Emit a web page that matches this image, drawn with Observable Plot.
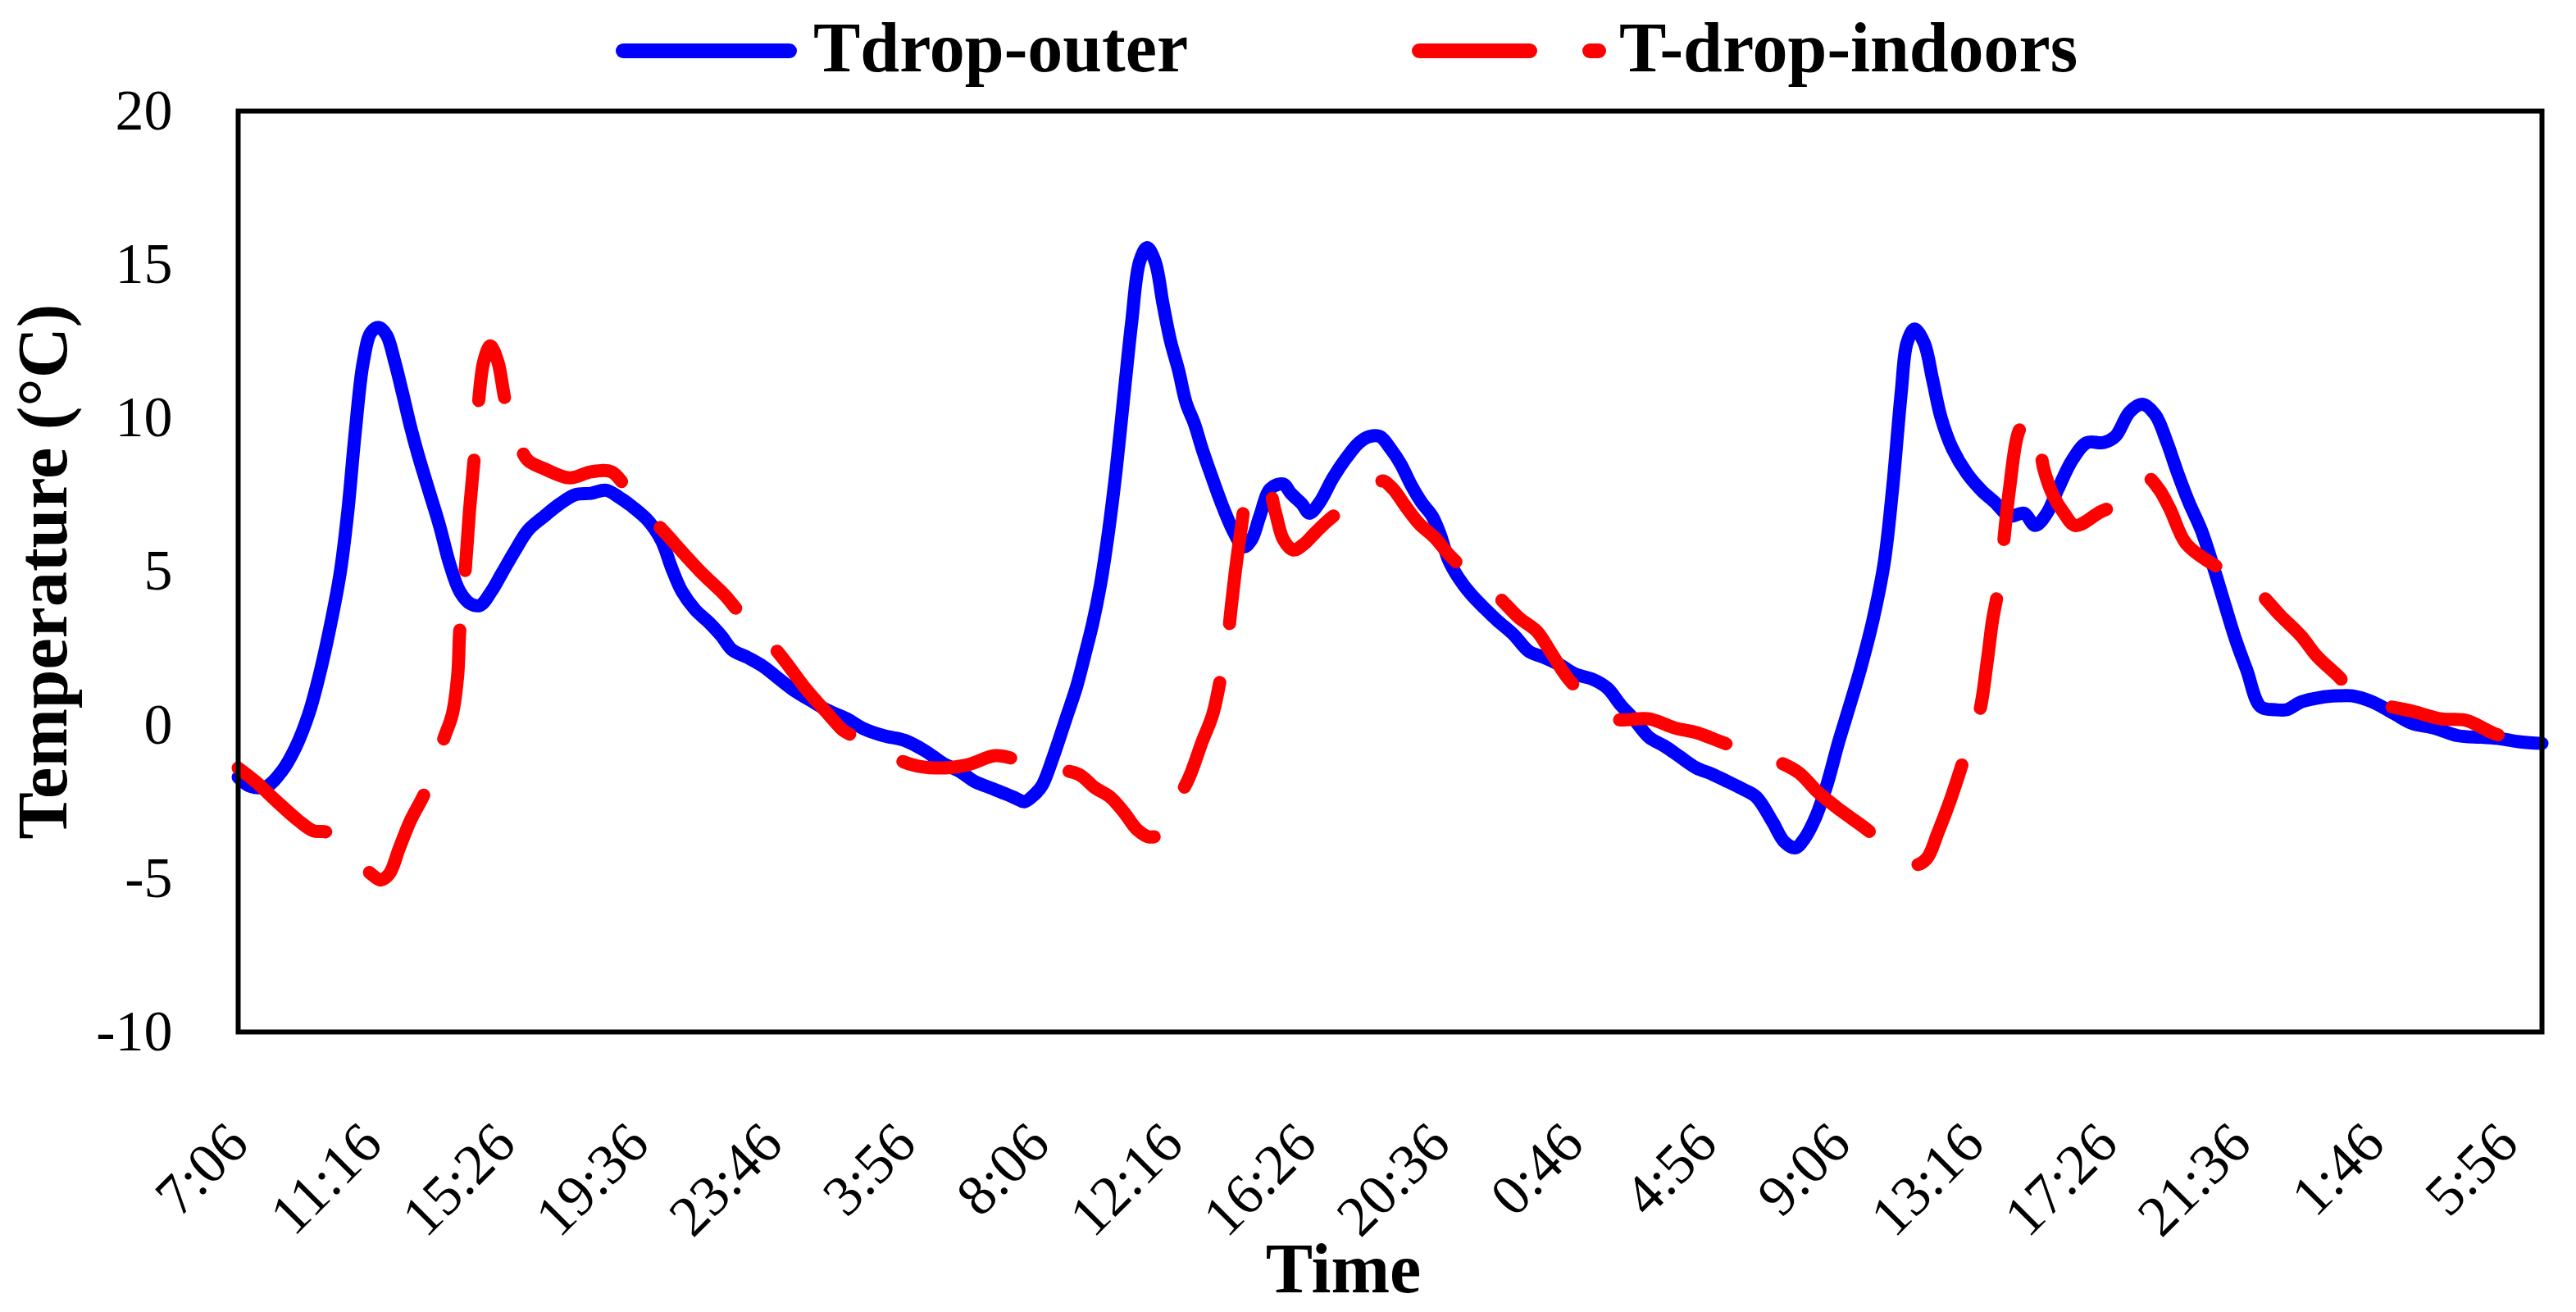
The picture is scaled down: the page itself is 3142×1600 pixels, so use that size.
<!DOCTYPE html>
<html>
<head>
<meta charset="utf-8">
<script src="https://cdn.jsdelivr.net/npm/d3@7"></script>
<script src="https://cdn.jsdelivr.net/npm/@observablehq/plot@0.6"></script>
<style>
  html, body { margin: 0; padding: 0; background: #ffffff; }
  #wrap { position: relative; width: 3142px; height: 1600px; }
  #legend { position: absolute; left: 0; top: 0; z-index: 2; }
  #legend svg, #chart svg { display: block; }
</style>
</head>
<body>
<div id="wrap">
<div id="chart"></div>
<div id="legend"></div>
</div>
<script>
// ---- Data (time in minutes since 7:06 on day 1) ----
const tickLabels = ["7:06","11:16","15:26","19:36","23:46","3:56","8:06","12:16","16:26","20:36","0:46","4:56","9:06","13:16","17:26","21:36","1:46","5:56"];
const tickMinutes = [0,250,500,750,1000,1250,1500,1750,2000,2250,2500,2750,3000,3250,3500,3750,4000,4250];
const timeDomain = [0, 4314];
const yTicks = [-10,-5,0,5,10,15,20];
const seriesNames = ["Tdrop-outer","T-drop-indoors"];

const outerTime = [0,23,53,82,107,132,151,171,191,205,219,234,249,264,278,293,308,323,337,356,377,396,415,435,453,474,494,519,543,573,602,631,661,689,715,739,768,793,812,831,856,881,905,925,954,984,1013,1043,1072,1101,1140,1169,1209,1248,1287,1320,1350,1380,1409,1438,1458,1472,1492,1506,1526,1550,1570,1585,1600,1614,1629,1644,1659,1673,1688,1702,1717,1732,1746,1761,1775,1791,1805,1825,1844,1864,1883,1898,1913,1933,1957,1971,1992,2006,2025,2050,2075,2099,2119,2138,2158,2177,2197,2216,2236,2251,2266,2285,2309,2334,2358,2388,2417,2446,2476,2505,2535,2564,2589,2613,2642,2672,2701,2731,2760,2790,2819,2843,2873,2895,2916,2933,2954,2975,2997,3018,3039,3061,3082,3098,3114,3125,3139,3157,3173,3189,3210,3237,3264,3290,3317,3344,3365,3387,3408,3435,3462,3493,3515,3542,3566,3590,3611,3632,3653,3676,3697,3718,3740,3761,3787,3814,3836,3863,3900,3932,3959,3997,4039,4071,4113,4157,4200,4237,4274,4314];
const outerTemp = [-1.7,-2.0,-2.0,-1.5,-0.75,0.35,1.55,3.1,4.95,6.9,9.5,11.8,12.8,12.95,12.7,11.85,10.8,9.7,8.8,7.7,6.5,5.25,4.35,3.95,3.9,4.35,4.95,5.7,6.35,6.8,7.2,7.5,7.55,7.65,7.4,7.1,6.65,6.0,5.1,4.35,3.75,3.35,2.9,2.45,2.2,1.9,1.5,1.1,0.8,0.5,0.2,-0.1,-0.35,-0.5,-0.85,-1.25,-1.5,-1.85,-2.05,-2.25,-2.4,-2.5,-2.25,-1.95,-1.05,0.2,1.25,2.25,3.3,4.5,6.2,8.3,10.8,13.1,15.1,15.55,15.1,13.7,12.5,11.55,10.5,9.8,9.0,8.0,7.1,6.3,5.8,6.05,6.8,7.7,7.85,7.55,7.2,6.9,7.25,8.05,8.7,9.2,9.4,9.4,9.0,8.5,7.8,7.25,6.8,6.2,5.4,4.8,4.25,3.8,3.4,2.95,2.4,2.2,1.95,1.65,1.5,1.2,0.65,0.2,-0.4,-0.7,-1.05,-1.4,-1.6,-1.85,-2.1,-2.35,-3.15,-3.8,-4.0,-3.7,-3.0,-1.95,-0.55,0.65,1.9,3.4,5.25,7.7,10.8,12.45,12.9,12.45,11.25,10.0,9.0,8.2,7.65,7.25,6.8,6.9,6.5,6.9,7.7,8.65,9.2,9.2,9.4,10.2,10.45,10.1,9.25,8.2,7.25,6.35,5.25,4.05,2.8,1.8,0.6,0.5,0.5,0.75,0.9,0.95,0.95,0.75,0.35,0.05,-0.1,-0.35,-0.4,-0.45,-0.55,-0.6];

const indoorTime = [0,33,73,112,141,167,210,249,267,283,302,323,347,366,385,401,411,415,425,433,442,450,460,472,486,501,519,541,573,621,661,699,726,763,800,836,871,910,942,984,1021,1062,1105,1135,1159,1209,1263,1306,1365,1418,1463,1517,1573,1605,1633,1659,1683,1707,1730,1756,1781,1805,1825,1842,1853,1859,1869,1879,1886,1906,1928,1942,1957,1976,1996,2016,2040,2084,2129,2143,2162,2187,2212,2241,2270,2314,2358,2398,2432,2457,2491,2535,2578,2642,2691,2731,2777,2830,2884,2922,2959,3002,3046,3098,3141,3162,3183,3205,3226,3242,3261,3275,3285,3292,3301,3306,3317,3334,3349,3365,3381,3398,3419,3440,3488,3537,3558,3573,3596,3617,3648,3697,3745,3782,3825,3863,3892,3932,3969,4018,4071,4125,4172,4221,4269,4314];
const indoorTemp = [-1.4,-1.85,-2.5,-3.1,-3.45,-3.5,-4.2,-4.85,-5.05,-4.85,-4.0,-3.1,-2.3,-1.5,-0.45,0.35,1.6,3.1,5.0,6.95,8.7,10.5,11.85,12.35,11.85,10.5,9.55,8.65,8.35,8.05,8.25,8.25,7.75,6.95,6.25,5.55,4.9,4.25,3.6,2.9,2.15,1.2,0.35,-0.2,-0.4,-0.9,-1.3,-1.4,-1.3,-1.0,-1.15,-1.4,-1.6,-2.05,-2.35,-2.85,-3.4,-3.65,-3.5,-2.55,-1.7,-0.55,0.35,1.75,2.8,3.75,5.25,6.5,7.25,7.9,7.75,6.95,6.05,5.7,5.9,6.25,6.65,7.25,7.8,7.95,7.7,7.1,6.55,6.1,5.5,4.8,4.2,3.5,3.05,2.4,1.5,0.75,0.2,0.2,-0.1,-0.25,-0.55,-0.9,-1.2,-1.55,-2.2,-2.8,-3.35,-4.1,-4.55,-4.35,-3.5,-2.5,-1.4,-0.5,0.45,2.05,3.4,4.05,4.95,5.95,7.7,9.55,9.95,9.8,8.35,7.5,6.9,6.5,6.95,7.35,7.95,8.1,7.7,7.05,5.9,5.25,4.8,4.35,3.55,2.9,2.25,1.6,0.95,0.65,0.45,0.2,0.15,-0.25,-0.55,-0.95];

// ---- Build tables ----
const outer = outerTime.map((t, i) => ({t, v: outerTemp[i]}));
const indoor = indoorTime.map((t, i) => ({t, v: indoorTemp[i]}));

const FONT = "'Liberation Serif', 'Times New Roman', serif";
const BLUE = "#0000ff";
const RED = "#ff0000";
const DASH = "135,73";

// ---- Chart ----
const chart = Plot.plot({
  width: 3142,
  height: 1600,
  marginTop: 135,
  marginBottom: 342,
  marginLeft: 290,
  marginRight: 42,
  style: {fontFamily: FONT, background: "white", color: "black"},
  x: {domain: timeDomain, axis: null},
  y: {domain: [-10, 20], axis: null},
  marks: [
    Plot.line(outer, {x: "t", y: "v", stroke: BLUE, strokeWidth: 16, curve: "catmull-rom", strokeLinejoin: "round"}),
    Plot.line(indoor, {x: "t", y: "v", stroke: RED, strokeWidth: 16, curve: "catmull-rom", strokeDasharray: DASH, strokeLinecap: "round", strokeLinejoin: "round"}),
    Plot.frame({stroke: "black", strokeWidth: 6}),
    Plot.axisY(yTicks, {tickSize: 0, tickPadding: 80, fontSize: 70, label: null, tickFormat: d => String(d)}),
    Plot.text(tickMinutes, {x: d => d, text: (d, i) => tickLabels[i], frameAnchor: "bottom", lineAnchor: "middle", rotate: -45, textAnchor: "end", dx: 0, dy: 124, fontSize: 70, fill: "black"}),
    Plot.text(["Temperature (°C)"], {text: d => d, frameAnchor: "left", lineAnchor: "middle", textAnchor: "middle", dx: -237, rotate: -90, fontSize: 86, fontWeight: "bold", fill: "black"}),
    Plot.text(["Time"], {text: d => d, frameAnchor: "bottom", lineAnchor: "middle", textAnchor: "middle", dx: -57, dy: 290, fontSize: 86, fontWeight: "bold", fill: "black"})
  ]
});
document.getElementById("chart").appendChild(chart);

// ---- Legend (above the plot frame) ----
const leg = d3.create("svg")
  .attr("width", 3142).attr("height", 125)
  .style("font-family", FONT);
leg.append("line")
  .attr("x1", 760).attr("x2", 963).attr("y1", 62).attr("y2", 62)
  .attr("stroke", BLUE).attr("stroke-width", 18).attr("stroke-linecap", "round");
leg.append("text")
  .attr("x", 992).attr("y", 87)
  .attr("font-size", 86).attr("font-weight", "bold").attr("fill", "black")
  .text(seriesNames[0]);
leg.append("line")
  .attr("x1", 1731).attr("x2", 1950).attr("y1", 62).attr("y2", 62)
  .attr("stroke", RED).attr("stroke-width", 18).attr("stroke-linecap", "round")
  .attr("stroke-dasharray", DASH);
leg.append("text")
  .attr("x", 1975).attr("y", 87)
  .attr("font-size", 86).attr("font-weight", "bold").attr("fill", "black")
  .text(seriesNames[1]);
document.getElementById("legend").appendChild(leg.node());
</script>
</body>
</html>
